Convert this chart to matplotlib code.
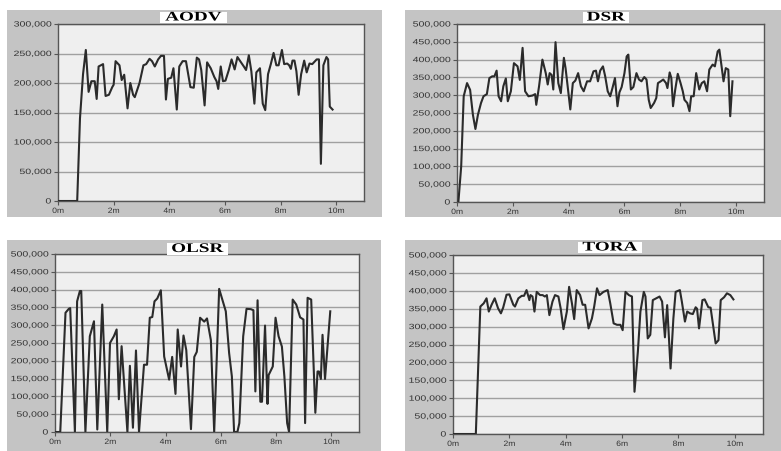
import matplotlib
matplotlib.use('Agg')
import matplotlib.pyplot as plt
from matplotlib.patches import Rectangle
from matplotlib.patheffects import AbstractPathEffect
from matplotlib.transforms import Affine2D
from matplotlib.ticker import FuncFormatter

W, H = 781, 451

# throughput samples, time in minutes
aodv_t = [0.0, 0.69, 0.79, 0.9, 1.0, 1.1, 1.2, 1.32, 1.39, 1.46, 1.62, 1.71, 1.83, 1.95, 2.0,
          2.07, 2.21, 2.29, 2.38, 2.5, 2.6, 2.7, 2.76, 2.93, 3.07, 3.17, 3.29, 3.38, 3.48, 3.6,
          3.7, 3.81, 3.88, 3.95, 4.07, 4.15, 4.27, 4.36, 4.48, 4.6, 4.76, 4.88, 4.99, 5.07, 5.15,
          5.27, 5.36, 5.49, 5.62, 5.7, 5.76, 5.85, 5.93, 6.02, 6.14, 6.24, 6.35, 6.45, 6.55, 6.68,
          6.76, 6.86, 6.95, 7.06, 7.13, 7.26, 7.36, 7.45, 7.55, 7.65, 7.75, 7.85, 7.93, 8.05, 8.13,
          8.24, 8.31, 8.37, 8.43, 8.5, 8.57, 8.65, 8.74, 8.85, 8.94, 9.04, 9.14, 9.3, 9.38, 9.45,
          9.54, 9.65, 9.71, 9.77, 9.87]
aodv_v = [0, 0, 140000, 215000, 256000, 185000, 203000, 203000, 173000, 228000, 232000, 178000,
          180000, 193000, 197000, 237000, 230000, 205000, 214000, 157000, 200000, 180000, 176000,
          200000, 230000, 232000, 241000, 237000, 228000, 240000, 246000, 246000, 172000, 207000,
          209000, 225000, 155000, 228000, 237000, 237000, 193000, 192000, 243000, 240000, 222000,
          162000, 235000, 225000, 210000, 203000, 190000, 228000, 203000, 204000, 222000, 240000,
          223000, 244000, 237000, 228000, 222000, 247000, 220000, 165000, 218000, 225000, 165000,
          154000, 215000, 232000, 251000, 230000, 230000, 256000, 232000, 233000, 230000, 224000,
          238000, 238000, 220000, 180000, 215000, 238000, 218000, 233000, 232000, 240000, 240000,
          63000, 230000, 244000, 240000, 160000, 155000]

dsr_t = [0.05, 0.15, 0.24, 0.36, 0.47, 0.57, 0.66, 0.75, 0.86, 0.95, 1.07, 1.16, 1.26, 1.34, 1.42,
         1.49, 1.58, 1.66, 1.75, 1.82, 1.93, 2.04, 2.17, 2.25, 2.35, 2.44, 2.56, 2.7, 2.8, 2.84,
         2.94, 3.06, 3.18, 3.25, 3.32, 3.39, 3.45, 3.53, 3.63, 3.72, 3.83, 3.89, 4.06, 4.15, 4.24,
         4.34, 4.44, 4.54, 4.66, 4.77, 4.89, 4.98, 5.05, 5.13, 5.23, 5.31, 5.4, 5.49, 5.57, 5.66,
         5.75, 5.82, 5.9, 6.0, 6.08, 6.14, 6.23, 6.32, 6.43, 6.52, 6.61, 6.71, 6.79, 6.87, 6.94,
         7.06, 7.14, 7.2, 7.3, 7.39, 7.49, 7.54, 7.62, 7.68, 7.74, 7.82, 7.91, 8.01, 8.09, 8.15,
         8.25, 8.33, 8.39, 8.48, 8.57, 8.68, 8.77, 8.86, 8.96, 9.04, 9.16, 9.24, 9.34, 9.4, 9.48,
         9.55, 9.63, 9.72, 9.79, 9.87]
dsr_v = [0, 100000, 297000, 334000, 315000, 245000, 205000, 245000, 278000, 297000, 303000, 348000,
         353000, 353000, 369000, 297000, 283000, 325000, 347000, 283000, 311000, 390000, 381000,
         343000, 433000, 311000, 297000, 299000, 303000, 273000, 325000, 400000, 362000, 330000,
         362000, 357000, 316000, 449000, 334000, 306000, 405000, 376000, 260000, 334000, 341000,
         362000, 325000, 311000, 339000, 339000, 367000, 369000, 339000, 369000, 381000, 353000,
         311000, 297000, 320000, 348000, 269000, 308000, 323000, 362000, 409000, 414000, 316000,
         323000, 362000, 344000, 339000, 351000, 344000, 287000, 264000, 278000, 292000, 334000,
         339000, 344000, 334000, 320000, 364000, 348000, 269000, 316000, 360000, 334000, 311000,
         287000, 278000, 255000, 297000, 297000, 362000, 316000, 334000, 339000, 311000, 372000,
         386000, 381000, 423000, 428000, 381000, 339000, 376000, 372000, 241000, 339000]

olsr_t = [0.0, 0.19, 0.38, 0.5, 0.55, 0.72, 0.8, 0.9, 0.95, 1.1, 1.26, 1.41, 1.53, 1.71, 1.89,
          1.99, 2.13, 2.23, 2.31, 2.41, 2.62, 2.71, 2.82, 2.93, 3.04, 3.22, 3.33, 3.43, 3.52, 3.6,
          3.7, 3.83, 3.95, 4.13, 4.24, 4.36, 4.44, 4.56, 4.65, 4.75, 4.92, 5.04, 5.13, 5.25, 5.4,
          5.5, 5.64, 5.76, 5.94, 6.18, 6.3, 6.4, 6.48, 6.6, 6.67, 6.81, 6.93, 7.09, 7.18, 7.25,
          7.33, 7.43, 7.49, 7.6, 7.69, 7.73, 7.88, 7.98, 8.09, 8.21, 8.3, 8.4, 8.47, 8.6, 8.73,
          8.87, 8.99, 9.05, 9.14, 9.27, 9.42, 9.5, 9.55, 9.62, 9.68, 9.77, 9.96]
olsr_v = [0, 0, 335000, 346000, 348000, 0, 367000, 396000, 396000, 0, 269000, 311000, 7000,
          358000, 0, 250000, 269000, 288000, 92000, 241000, 0, 186000, 12000, 229000, 0, 189000,
          189000, 321000, 323000, 367000, 375000, 398000, 212000, 147000, 211000, 107000, 288000,
          184000, 271000, 230000, 8000, 211000, 225000, 321000, 310000, 319000, 258000, 0, 402000,
          339000, 222000, 156000, 0, 0, 25000, 269000, 346000, 345000, 342000, 114000, 370000,
          85000, 85000, 299000, 79000, 160000, 184000, 321000, 269000, 240000, 156000, 25000, 0,
          372000, 358000, 322000, 316000, 25000, 377000, 372000, 54000, 170000, 170000, 149000,
          273000, 149000, 339000]

tora_t = [0.0, 0.81, 0.97, 1.09, 1.19, 1.27, 1.37, 1.48, 1.6, 1.7, 1.78, 1.9, 2.0, 2.14, 2.2,
          2.32, 2.44, 2.52, 2.61, 2.71, 2.75, 2.82, 2.89, 2.97, 3.09, 3.18, 3.26, 3.33, 3.42, 3.53,
          3.62, 3.74, 3.82, 3.92, 4.04, 4.12, 4.22, 4.3, 4.39, 4.51, 4.6, 4.69, 4.81, 4.93, 5.01,
          5.11, 5.2, 5.34, 5.49, 5.58, 5.7, 5.82, 5.94, 6.02, 6.12, 6.24, 6.35, 6.44, 6.56, 6.65,
          6.77, 6.83, 6.91, 7.0, 7.09, 7.21, 7.33, 7.42, 7.52, 7.6, 7.72, 7.82, 7.9, 8.05, 8.12,
          8.23, 8.31, 8.41, 8.51, 8.61, 8.66, 8.73, 8.85, 8.93, 9.06, 9.14, 9.32, 9.42, 9.5, 9.62,
          9.72, 9.84, 9.95]
tora_v = [0, 0, 356000, 365000, 379000, 342000, 361000, 379000, 351000, 337000, 353000, 389000,
          390000, 361000, 356000, 379000, 386000, 386000, 402000, 374000, 388000, 384000, 342000,
          397000, 388000, 388000, 384000, 388000, 332000, 370000, 388000, 384000, 351000, 293000,
          342000, 411000, 365000, 321000, 402000, 388000, 361000, 361000, 295000, 323000, 356000,
          407000, 388000, 397000, 402000, 365000, 309000, 305000, 305000, 290000, 397000, 388000,
          384000, 118000, 230000, 342000, 397000, 384000, 267000, 277000, 374000, 379000, 384000,
          370000, 270000, 360000, 183000, 323000, 397000, 402000, 370000, 314000, 342000, 337000,
          335000, 354000, 350000, 295000, 374000, 376000, 354000, 353000, 253000, 262000, 374000,
          382000, 393000, 388000, 376000]


class Widen(AbstractPathEffect):
    """Draw text glyphs stretched horizontally about an anchor."""

    def __init__(self, sx, anchor='center'):
        super().__init__()
        self.sx = sx
        self.anchor = anchor

    def draw_path(self, renderer, gc, tpath, affine, rgbFace=None):
        ext = tpath.get_extents()
        if self.anchor == 'right':
            x0 = ext.x1
        elif self.anchor == 'left':
            x0 = ext.x0
        else:
            x0 = (ext.x0 + ext.x1) / 2
        t = Affine2D().translate(-x0, 0).scale(self.sx, 1).translate(x0, 0) + affine
        renderer.draw_path(gc, tpath, t, rgbFace)


def fig_rect(l, t, r, b):
    return [l / W, 1 - b / H, (r - l) / W, (b - t) / H]


# name, times, values, y max, axes box, panel box, title box (pixels, top-left origin)
panels = [
    ('AODV', aodv_t, aodv_v, 300000, (58, 24, 364, 201), (7, 10, 382, 217), (160, 12, 227, 23)),
    ('DSR', dsr_t, dsr_v, 500000, (457, 24, 764, 202), (405, 10, 781, 217), (583, 12, 629, 23)),
    ('OLSR', olsr_t, olsr_v, 500000, (55, 254, 359, 432), (7, 240, 381, 451), (167, 243, 228, 255)),
    ('TORA', tora_t, tora_v, 500000, (453, 255, 763, 434), (405, 240, 781, 451), (578, 242, 642, 253)),
]

fig = plt.figure(figsize=(W / 100, H / 100), dpi=100)
fig.patch.set_facecolor('white')

axes = []
for name, t, v, ymax, abox, pbox, tbox in panels:
    l, tp, r, b = pbox
    fig.add_artist(Rectangle((l / W, 1 - b / H), (r - l) / W, (b - tp) / H,
                             transform=fig.transFigure, facecolor='#c4c4c4',
                             edgecolor='none', zorder=-1))

    ax = fig.add_axes(fig_rect(*abox))
    ax.set_facecolor('#efefef')
    ax.plot(t, v, color='#2b2b2b', lw=1.5, zorder=3)
    ax.set_xlim(0, 11)
    ax.set_ylim(0, ymax)
    ax.set_xticks(range(0, 11, 2))
    ax.set_xticklabels([f'{m}m' for m in range(0, 11, 2)])
    ax.set_yticks(range(0, ymax + 1, 50000))
    ax.yaxis.set_major_formatter(FuncFormatter(lambda y, p: f'{int(y):,}'))
    ax.grid(axis='y', color='#a0a0a0', lw=1.0)
    ax.set_axisbelow(True)
    for s in ax.spines.values():
        s.set_color('#555555')
        s.set_linewidth(1.0)
    ax.tick_params(length=3, width=0.8, color='#555555', labelsize=5.5,
                   labelcolor='#333333', pad=2)
    for lbl in ax.get_xticklabels() + ax.get_yticklabels():
        lbl.set_fontfamily('Liberation Sans')
    axes.append(ax)

    l, tp, r, b = tbox
    fig.add_artist(Rectangle((l / W, 1 - b / H), (r - l) / W, (b - tp) / H,
                             transform=fig.transFigure, facecolor='white',
                             edgecolor='none', zorder=2))
    fig.text((l + r) / 2 / W, 1 - (tp + b) / 2 / H, name, ha='center', va='center',
             fontfamily='Liberation Serif', fontweight='bold', fontsize=9.5,
             color='black', zorder=3, path_effects=[Widen(1.45)])

fig.canvas.draw()
for ax in axes:
    for lbl in ax.get_yticklabels():
        lbl.set_path_effects([Widen(1.38, 'right')])
    for lbl in ax.get_xticklabels():
        lbl.set_path_effects([Widen(1.12)])

fig.savefig('out.png', dpi=100, facecolor='white')
